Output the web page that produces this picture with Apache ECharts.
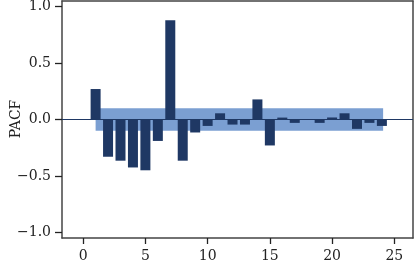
<!DOCTYPE html>
<html>
<head>
<meta charset="utf-8">
<script src="https://cdn.jsdelivr.net/npm/echarts@6/dist/echarts.min.js"></script>
<style>
  html, body { margin: 0; padding: 0; background: #fff; overflow: hidden; }
  #chart { width: 414px; height: 265px; }
</style>
</head>
<body>
<div id="chart"></div>
<script>
// PACF values per lag
var lags = [1, 2, 3, 4, 5, 6, 7, 8, 9, 10, 11, 12, 13, 14, 15, 16, 17, 18, 19, 20, 21, 22, 23, 24]
var pacf = [0.27, -0.33, -0.365, -0.425, -0.45, -0.19, 0.88, -0.365, -0.115, -0.057,
  0.055, -0.045, -0.045, 0.178, -0.23, 0.017, -0.03, -0.004, -0.03, 0.018,
  0.055, -0.083, -0.03, -0.057]
// confidence band
var bandLags = [1, 24.1]
var bandUpper = 0.1
var bandLower = -0.1
// ticks
var xTicks = [0, 5, 10, 15, 20, 25]
var yTicks = [-1, -0.5, 0, 0.5, 1]

var navy = '#1f3864'
var bandColor = '#7b9fd2'
var axisColor = '#444'
var tickColor = '#222'
var font = 'DejaVu Serif'

var chart = echarts.init(document.getElementById('chart'))

var frameAxis = {
  type: 'value',
  min: -1.7,
  max: 26.5,
  splitLine: { show: false },
  axisLine: { show: true, onZero: false, lineStyle: { color: axisColor, width: 1.5 } },
  axisTick: { show: false },
  axisLabel: { show: false }
}

chart.setOption({
  animation: false,
  grid: {
    left: 62,
    right: 1,
    top: 1,
    bottom: 27,
    outerBoundsMode: 'none',
    containLabel: false
  },
  // y axis title
  graphic: [{
    type: 'text',
    x: 16,
    y: 119,
    rotation: Math.PI / 2,
    style: {
      text: 'PACF',
      fill: '#222',
      font: '14px "DejaVu Serif"',
      align: 'center',
      verticalAlign: 'middle'
    }
  }],
  xAxis: [{
    type: 'value',
    min: -1.7,
    max: 26.5,
    splitLine: { show: false },
    axisLine: { show: true, onZero: false, lineStyle: { color: axisColor, width: 1.5 } },
    axisTick: { show: true, customValues: xTicks, length: 6, lineStyle: { color: tickColor, width: 1.3 } },
    axisLabel: {
      show: true,
      customValues: xTicks,
      color: '#222',
      fontFamily: font,
      fontSize: 14,
      margin: 11
    }
  }, Object.assign({ position: 'top' }, frameAxis)],
  yAxis: [{
    type: 'value',
    min: -1.05,
    max: 1.05,
    splitLine: { show: false },
    axisLine: { show: true, onZero: false, lineStyle: { color: axisColor, width: 1.5 } },
    axisTick: { show: true, customValues: yTicks, length: 7, lineStyle: { color: tickColor, width: 1.3 } },
    axisLabel: {
      show: true,
      customValues: yTicks,
      color: '#222',
      fontFamily: font,
      fontSize: 14,
      margin: 11,
      formatter: function (v) {
        return v.toFixed(1).replace('-', '\u2212')
      }
    }
  }, Object.assign({ position: 'right' }, frameAxis, { min: -1.05, max: 1.05 })],
  series: [
    {
      // confidence band
      type: 'custom',
      z: 1,
      silent: true,
      data: [[bandLags[0], bandUpper, bandLags[1], bandLower]],
      renderItem: function (params, api) {
        var p0 = api.coord([api.value(0), api.value(1)])
        var p1 = api.coord([api.value(2), api.value(3)])
        return {
          type: 'rect',
          shape: { x: p0[0], y: p0[1], width: p1[0] - p0[0], height: p1[1] - p0[1] },
          style: { fill: bandColor }
        }
      }
    },
    {
      // zero line across the whole plot
      type: 'custom',
      z: 2,
      silent: true,
      data: [[0]],
      renderItem: function (params, api) {
        var cs = params.coordSys
        var y = api.coord([0, api.value(0)])[1]
        return {
          type: 'line',
          shape: { x1: cs.x, y1: y, x2: cs.x + cs.width, y2: y },
          style: { stroke: navy, lineWidth: 1.2 }
        }
      }
    },
    {
      type: 'bar',
      z: 3,
      barWidth: 10,
      itemStyle: { color: navy },
      data: lags.map(function (l, i) { return [l, pacf[i]] })
    }
  ]
})
</script>
</body>
</html>
